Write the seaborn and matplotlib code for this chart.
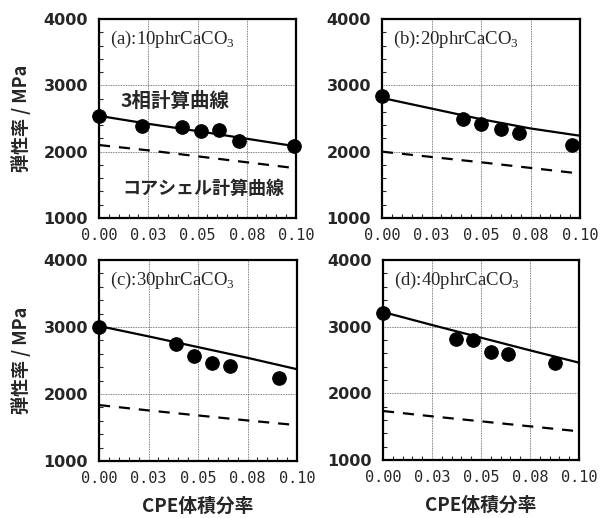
import numpy as np
import pandas as pd
import matplotlib
matplotlib.use("Agg")
import matplotlib.pyplot as plt
import seaborn as sns
from matplotlib.ticker import MultipleLocator, FixedLocator

# measured points (CPE volume fraction, modulus MPa)
x_meas_a = [0.0, 0.022, 0.042, 0.052, 0.061, 0.071, 0.099]
E_meas_a = [2540, 2390, 2365, 2315, 2320, 2165, 2080]
x_meas_b = [0.0, 0.041, 0.050, 0.060, 0.069, 0.096]
E_meas_b = [2840, 2500, 2410, 2340, 2280, 2105]
x_meas_c = [0.0, 0.039, 0.048, 0.057, 0.066, 0.091]
E_meas_c = [3000, 2740, 2565, 2470, 2415, 2240]
x_meas_d = [0.0, 0.037, 0.046, 0.055, 0.064, 0.088]
E_meas_d = [3200, 2820, 2805, 2620, 2595, 2455]

# calculated curves
x_calc = [0.0, 0.025, 0.05, 0.075, 0.1]
three_phase_a = [2540, 2420, 2310, 2195, 2080]
three_phase_b = [2810, 2650, 2490, 2350, 2240]
three_phase_c = [3015, 2860, 2700, 2540, 2370]
three_phase_d = [3220, 3025, 2835, 2645, 2460]
core_shell_a = [2100, 2020, 1930, 1840, 1750]
core_shell_b = [2000, 1920, 1840, 1755, 1670]
core_shell_c = [1835, 1755, 1680, 1605, 1535]
core_shell_d = [1735, 1655, 1580, 1505, 1430]

panel_titles = ["(a):10phrCaCO$_3$", "(b):20phrCaCO$_3$",
                "(c):30phrCaCO$_3$", "(d):40phrCaCO$_3$"]
x_ticks = [0.0, 0.025, 0.05, 0.075, 0.1]
x_ticklabels = ["0.00", "0.03", "0.05", "0.08", "0.10"]
y_ticks = [1000, 2000, 3000, 4000]

sns.set_style("ticks")
plt.rcParams['font.family'] = ['Noto Sans CJK JP', 'DejaVu Sans']
plt.rcParams['mathtext.fontset'] = 'custom'
plt.rcParams['mathtext.rm'] = 'Liberation Serif'

fig = plt.figure(figsize=(6.02, 5.18), dpi=100)
W, H = 602, 518
boxes = [(99, 19, 296, 218), (382, 19, 580, 218),
         (99, 260, 297, 461), (383, 260, 579, 460)]

panels = [
    (x_meas_a, E_meas_a, three_phase_a, core_shell_a),
    (x_meas_b, E_meas_b, three_phase_b, core_shell_b),
    (x_meas_c, E_meas_c, three_phase_c, core_shell_c),
    (x_meas_d, E_meas_d, three_phase_d, core_shell_d),
]

for i, ((xm, Em, tp, cs), (l, t, r, b)) in enumerate(zip(panels, boxes)):
    ax = fig.add_axes([l / W, 1 - b / H, (r - l) / W, (b - t) / H])
    sns.lineplot(x=x_calc, y=tp, ax=ax, color="black", linewidth=1.6)
    sns.lineplot(x=x_calc, y=cs, ax=ax, color="black", linewidth=1.6,
                 linestyle=(0, (5, 4)))
    sns.scatterplot(x=xm, y=Em, ax=ax, color="black", s=95,
                    edgecolor="black", zorder=5, clip_on=False)
    ax.set_xlim(0, 0.1)
    ax.set_ylim(1000, 4000)
    ax.xaxis.set_major_locator(FixedLocator(x_ticks))
    ax.xaxis.set_minor_locator(MultipleLocator(0.005))
    ax.yaxis.set_major_locator(FixedLocator(y_ticks))
    ax.yaxis.set_minor_locator(MultipleLocator(200))
    ax.set_xticklabels(x_ticklabels, family="DejaVu Sans Mono", fontsize=11)
    ax.set_yticklabels([str(v) for v in y_ticks], fontsize=11.5,
                       fontweight="bold", family="Liberation Sans Narrow")
    ax.tick_params(which="both", direction="in", top=False, right=False)
    ax.tick_params(axis="y", which="major", length=0, pad=8)
    ax.tick_params(axis="x", which="major", length=0, pad=7)
    ax.tick_params(which="minor", length=3, width=0.8)
    ax.grid(True, which="major", color="#555555", linewidth=0.6,
            linestyle=(0, (1, 1)))
    for sp in ax.spines.values():
        sp.set_linewidth(1.6)
        sp.set_color("black")
    ax.text(0.055, 0.95, panel_titles[i], transform=ax.transAxes,
            family="Liberation Serif", fontsize=13.5, va="top", ha="left")
    ax.set_xlabel("")
    ax.set_ylabel("")
    if i % 2 == 0:
        ax.set_ylabel("弾性率 / MPa", fontsize=13, fontweight="bold",
                      labelpad=9)
    if i >= 2:
        ax.set_xlabel("CPE体積分率", fontsize=13.5, fontweight="bold",
                      labelpad=8)
    if i == 0:
        ax.text(0.011, 2760, "3相計算曲線", fontsize=14, fontweight="bold",
                va="center", ha="left")
        ax.text(0.012, 1450, "コアシェル計算曲線", fontsize=13,
                fontweight="bold", va="center", ha="left")

fig.savefig("out.png", dpi=100)
